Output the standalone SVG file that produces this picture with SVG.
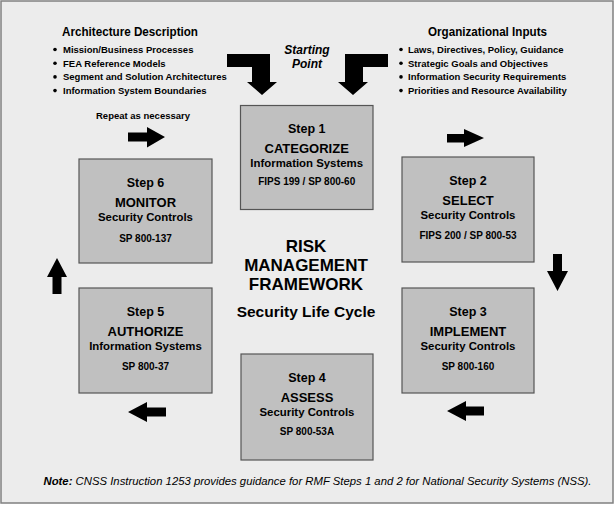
<svg xmlns="http://www.w3.org/2000/svg" width="615" height="505" viewBox="0 0 615 505">
<style>
text{font-family:"Liberation Sans",Arial,sans-serif;fill:#000;}
.box{fill:#c0c0c0;stroke:#555;stroke-width:1.2;}
.stp{font-weight:bold;font-size:12.5px;text-anchor:middle;}
.mn{font-weight:bold;font-size:13px;text-anchor:middle;}
.sb{font-weight:bold;font-size:11.4px;text-anchor:middle;}
.rf{font-weight:bold;font-size:10px;text-anchor:middle;}
.hd{font-weight:bold;font-size:12.5px;text-anchor:middle;}
.li{font-weight:bold;font-size:9.5px;}
.ttl{font-weight:bold;font-size:17px;text-anchor:middle;}
.arr{fill:#000;}
</style>
<rect x="1" y="1" width="612" height="502" fill="#ececec" stroke="#808080" stroke-width="1.5"/>

<g id="arch-desc">
<text class="hd" x="130" y="36" textLength="136" lengthAdjust="spacingAndGlyphs">Architecture Description</text>
<circle cx="55" cy="49.5" r="1.8"/><text class="li" x="63" y="53">Mission/Business Processes</text>
<circle cx="55" cy="63.2" r="1.8"/><text class="li" x="63" y="66.7">FEA Reference Models</text>
<circle cx="55" cy="76.9" r="1.8"/><text class="li" x="63" y="80.4">Segment and Solution Architectures</text>
<circle cx="55" cy="90.6" r="1.8"/><text class="li" x="63" y="94.1">Information System Boundaries</text>
</g>

<g id="org-inputs">
<text class="hd" x="487.5" y="36" textLength="119" lengthAdjust="spacingAndGlyphs">Organizational Inputs</text>
<circle cx="401" cy="49.5" r="1.8"/><text class="li" x="408" y="53">Laws, Directives, Policy, Guidance</text>
<circle cx="401" cy="63.2" r="1.8"/><text class="li" x="408" y="66.7">Strategic Goals and Objectives</text>
<circle cx="401" cy="76.9" r="1.8"/><text class="li" x="408" y="80.4">Information Security Requirements</text>
<circle cx="401" cy="90.6" r="1.8"/><text class="li" x="408" y="94.1">Priorities and Resource Availability</text>
</g>

<g id="starting-point">
<text x="307" y="54" font-weight="bold" font-style="italic" font-size="12px" text-anchor="middle">Starting</text>
<text x="307" y="68" font-weight="bold" font-style="italic" font-size="12px" text-anchor="middle">Point</text>
</g>

<g id="repeat-label">
<text class="li" x="143" y="118.5" text-anchor="middle">Repeat as necessary</text>
</g>

<g id="title">
<text class="ttl" x="306" y="252">RISK</text>
<text class="ttl" x="306" y="271">MANAGEMENT</text>
<text class="ttl" x="306" y="290">FRAMEWORK</text>
<text x="306" y="317" font-weight="bold" font-size="15.5px" text-anchor="middle">Security Life Cycle</text>
</g>

<g id="step1">
<rect class="box" x="240.5" y="105.5" width="132.5" height="104"/>
<text class="stp" x="306.7" y="133">Step 1</text>
<text class="mn" x="306.7" y="153">CATEGORIZE</text>
<text class="sb" x="306.7" y="167">Information Systems</text>
<text class="rf" x="306.7" y="185">FIPS 199 / SP 800-60</text>
</g>

<g id="step2">
<rect class="box" x="402" y="157" width="132" height="105"/>
<text class="stp" x="468" y="185">Step 2</text>
<text class="mn" x="468" y="205">SELECT</text>
<text class="sb" x="468" y="219">Security Controls</text>
<text class="rf" x="468" y="239">FIPS 200 / SP 800-53</text>
</g>

<g id="step3">
<rect class="box" x="402" y="288" width="132" height="105"/>
<text class="stp" x="468" y="316">Step 3</text>
<text class="mn" x="468" y="336">IMPLEMENT</text>
<text class="sb" x="468" y="350">Security Controls</text>
<text class="rf" x="468" y="370">SP 800-160</text>
</g>

<g id="step4">
<rect class="box" x="241" y="354" width="132" height="106"/>
<text class="stp" x="307" y="382">Step 4</text>
<text class="mn" x="307" y="402">ASSESS</text>
<text class="sb" x="307" y="415.5">Security Controls</text>
<text class="rf" x="307" y="435">SP 800-53A</text>
</g>

<g id="step5">
<rect class="box" x="79" y="288" width="133" height="105"/>
<text class="stp" x="145.5" y="316">Step 5</text>
<text class="mn" x="145.5" y="336">AUTHORIZE</text>
<text class="sb" x="145.5" y="350">Information Systems</text>
<text class="rf" x="145.5" y="370">SP 800-37</text>
</g>

<g id="step6">
<rect class="box" x="79" y="159" width="133" height="104"/>
<text class="stp" x="145.5" y="186.5">Step 6</text>
<text class="mn" x="145.5" y="207">MONITOR</text>
<text class="sb" x="145.5" y="220.5">Security Controls</text>
<text class="rf" x="145.5" y="241.5">SP 800-137</text>
</g>

<g id="connectors">
<polygon class="arr" points="227,54 270,54 270,82 277,82 262,95 247,82 252,82 252,67 227,67"/>
<polygon class="arr" points="388,54 345,54 345,82 338,82 353,95 368,82 363,82 363,67 388,67"/>
<polygon class="arr" points="128,132.5 147,132.5 147,127 165,137 147,147.5 147,141.5 128,141.5"/>
<polygon class="arr" points="447,134 464,134 464,129 484,138 464,147 464,142.5 447,142.5"/>
<polygon class="arr" points="553,254 562,254 562,271 568,271 557.5,291 547,271 553,271"/>
<polygon class="arr" points="484,406.5 466,406.5 466,401 447,411 466,421 466,415.5 484,415.5"/>
<polygon class="arr" points="166,407.5 147,407.5 147,402 128,412 147,422 147,416.5 166,416.5"/>
<polygon class="arr" points="52.5,294 52.5,277 47,277 57,258 67,277 61.5,277 61.5,294"/>
</g>

<g id="note">
<text x="317.5" y="485" font-size="10.5px" font-style="italic" text-anchor="middle" textLength="548" lengthAdjust="spacingAndGlyphs"><tspan font-weight="bold">Note:</tspan> CNSS Instruction 1253 provides guidance for RMF Steps 1 and 2 for National Security Systems (NSS).</text>
</g>
</svg>
